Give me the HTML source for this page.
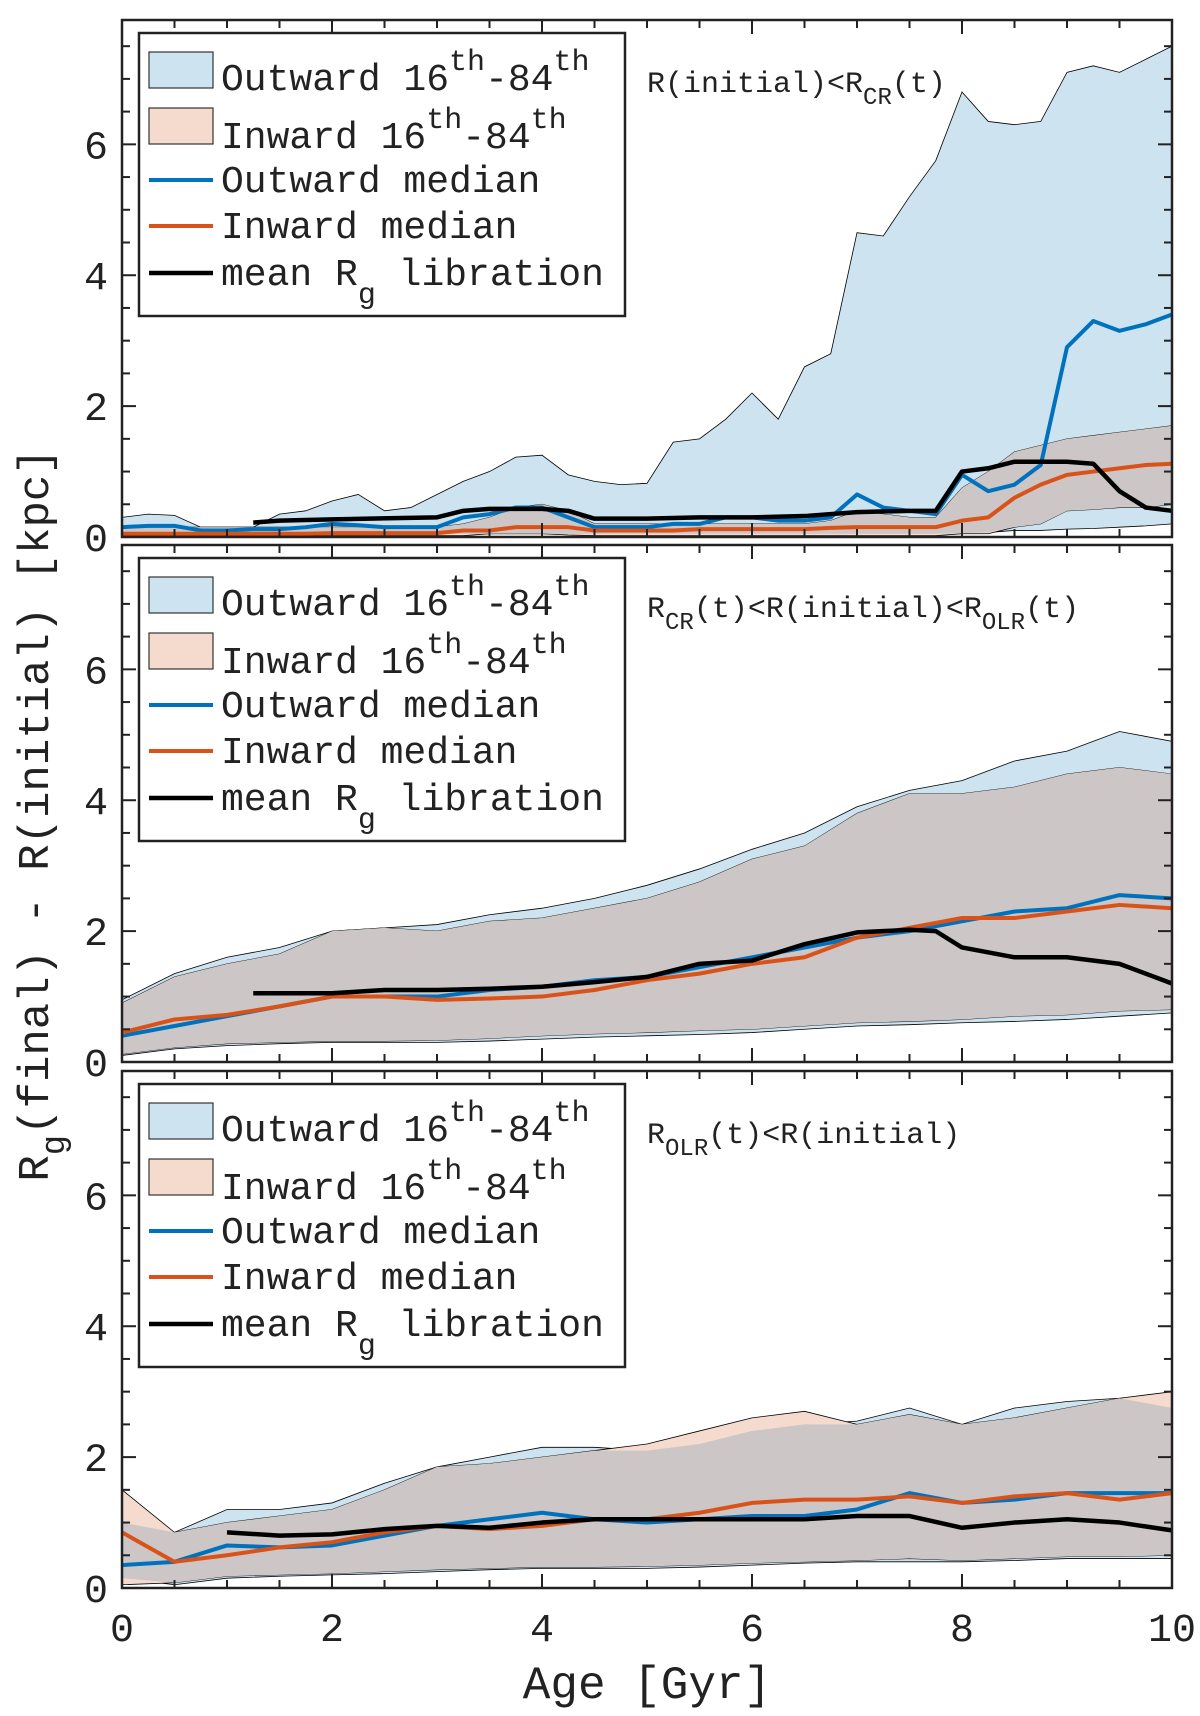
<!DOCTYPE html>
<html><head><meta charset="utf-8"><style>
html,body{margin:0;padding:0;background:#fff;width:1200px;height:1716px;overflow:hidden}
svg{display:block}
text{font-family:"Liberation Mono",monospace;fill:#222}
</style></head><body>
<svg id="fig" width="1200" height="1716" xmlns="http://www.w3.org/2000/svg"></svg>
<script>
// ---- data ----
const xq = [0,0.25,0.5,0.75,1,1.25,1.5,1.75,2,2.25,2.5,2.75,3,3.25,3.5,3.75,4,4.25,4.5,4.75,5,5.25,5.5,5.75,6,6.25,6.5,6.75,7,7.25,7.5,7.75,8,8.25,8.5,8.75,9,9.25,9.5,9.75,10];
const p1OutUp = [0.3,0.35,0.33,0.15,0.15,0.15,0.35,0.4,0.55,0.65,0.4,0.45,0.65,0.85,1.0,1.22,1.25,0.95,0.85,0.8,0.82,1.45,1.5,1.8,2.2,1.8,2.6,2.8,4.65,4.6,5.2,5.75,6.8,6.35,6.3,6.35,7.1,7.2,7.1,7.3,7.5];
const p1OutLo = [0.05,0.05,0.05,0.05,0.05,0.05,0.05,0.05,0.05,0.05,0.05,0.05,0.05,0.05,0.05,0.05,0.05,0.05,0.05,0.05,0.05,0.05,0.05,0.05,0.05,0.05,0.05,0.05,0.05,0.05,0.05,0.05,0.06,0.07,0.1,0.1,0.12,0.13,0.15,0.17,0.2];
const p1InUp = [0.15,0.15,0.15,0.15,0.15,0.15,0.15,0.15,0.15,0.15,0.15,0.15,0.15,0.2,0.3,0.45,0.5,0.4,0.2,0.2,0.2,0.2,0.2,0.2,0.2,0.2,0.2,0.25,0.4,0.35,0.3,0.3,0.75,1.0,1.3,1.4,1.5,1.55,1.6,1.65,1.7];
const p1InLo = [0.02,0.02,0.02,0.02,0.02,0.02,0.02,0.02,0.02,0.02,0.02,0.02,0.02,0.02,0.05,0.05,0.05,0.03,0.02,0.02,0.02,0.02,0.02,0.02,0.02,0.02,0.02,0.02,0.02,0.02,0.02,0.02,0.05,0.05,0.15,0.2,0.4,0.42,0.45,0.45,0.5];
const p1OutMed = [0.15,0.17,0.17,0.1,0.1,0.12,0.12,0.15,0.2,0.18,0.15,0.15,0.15,0.3,0.35,0.45,0.45,0.3,0.15,0.15,0.15,0.2,0.2,0.3,0.3,0.25,0.25,0.3,0.65,0.45,0.4,0.35,0.95,0.7,0.8,1.1,2.9,3.3,3.15,3.25,3.4];
const p1InMed = [0.05,0.05,0.05,0.05,0.05,0.05,0.05,0.05,0.06,0.06,0.06,0.06,0.06,0.1,0.1,0.15,0.15,0.15,0.1,0.1,0.1,0.1,0.12,0.12,0.12,0.12,0.12,0.14,0.15,0.15,0.15,0.15,0.25,0.3,0.6,0.8,0.95,1.0,1.05,1.1,1.12];
const p1LibX = [1.25,1.5,2,3,3.25,3.5,4,4.25,4.5,5,5.5,6,6.5,7,7.5,7.75,8,8.25,8.5,9,9.25,9.5,9.75,10];
const p1Lib = [0.22,0.25,0.27,0.3,0.4,0.43,0.43,0.4,0.28,0.28,0.3,0.3,0.32,0.38,0.4,0.4,1.0,1.05,1.15,1.15,1.12,0.7,0.45,0.4];

const xh = [0,0.5,1,1.5,2,2.5,3,3.5,4,4.5,5,5.5,6,6.5,7,7.5,8,8.5,9,9.5,10];
const p2OutUp = [0.95,1.35,1.6,1.75,2.0,2.05,2.1,2.25,2.35,2.5,2.7,2.95,3.25,3.5,3.9,4.15,4.3,4.6,4.75,5.05,4.9];
const p2InUp = [0.9,1.3,1.5,1.65,2.0,2.05,2.0,2.15,2.2,2.35,2.5,2.75,3.1,3.3,3.8,4.1,4.1,4.2,4.4,4.5,4.4];
const p2OutLo = [0.1,0.2,0.25,0.28,0.3,0.3,0.3,0.32,0.35,0.38,0.4,0.42,0.45,0.5,0.55,0.57,0.6,0.62,0.65,0.7,0.75];
const p2InLo = [0.12,0.22,0.28,0.3,0.32,0.32,0.33,0.36,0.4,0.43,0.45,0.48,0.5,0.55,0.6,0.62,0.65,0.7,0.72,0.78,0.8];
const p2OutMed = [0.4,0.55,0.7,0.85,1.0,1.0,1.0,1.1,1.15,1.25,1.3,1.45,1.6,1.75,1.9,2.0,2.15,2.3,2.35,2.55,2.5];
const p2InMed = [0.45,0.65,0.72,0.85,1.0,1.0,0.95,0.97,1.0,1.1,1.25,1.35,1.5,1.6,1.9,2.05,2.2,2.2,2.3,2.4,2.35];
const p2LibX = [1.25,1.5,2,2.5,3,3.5,4,4.5,5,5.5,6,6.5,7,7.5,7.75,8,8.5,9,9.5,10];
const p2Lib = [1.05,1.05,1.05,1.1,1.1,1.12,1.15,1.22,1.3,1.5,1.55,1.8,1.98,2.02,2.0,1.75,1.6,1.6,1.5,1.2];

const p3OutUp = [1.0,0.85,1.2,1.2,1.3,1.6,1.85,2.0,2.15,2.15,2.1,2.2,2.4,2.5,2.55,2.75,2.5,2.75,2.85,2.9,2.75];
const p3InUp = [1.5,0.85,1.0,1.1,1.2,1.5,1.85,1.9,2.0,2.1,2.2,2.4,2.6,2.7,2.5,2.65,2.5,2.6,2.75,2.9,3.0];
const p3OutLo = [0.15,0.05,0.15,0.18,0.2,0.22,0.25,0.28,0.3,0.3,0.3,0.32,0.35,0.38,0.4,0.4,0.4,0.42,0.45,0.45,0.45];
const p3InLo = [0.05,0.08,0.18,0.2,0.22,0.25,0.28,0.3,0.32,0.32,0.33,0.35,0.38,0.4,0.42,0.45,0.42,0.45,0.48,0.48,0.5];
const p3OutMed = [0.35,0.4,0.65,0.62,0.65,0.8,0.95,1.05,1.15,1.05,1.0,1.05,1.1,1.1,1.2,1.45,1.3,1.35,1.45,1.45,1.45];
const p3InMed = [0.85,0.4,0.5,0.62,0.7,0.85,0.95,0.9,0.95,1.05,1.05,1.15,1.3,1.35,1.35,1.4,1.3,1.4,1.45,1.35,1.45];
const p3LibX = [1,1.5,2,2.5,3,3.5,4,4.5,5,5.5,6,6.5,7,7.5,8,8.5,9,9.5,10];
const p3Lib = [0.85,0.8,0.82,0.9,0.95,0.92,1.0,1.05,1.05,1.05,1.05,1.05,1.1,1.1,0.92,1.0,1.05,1.0,0.88];

const xTicks = [0,2,4,6,8,10];
const yTicks = [0,2,4,6];
const titles = ["R(initial)&lt;R|CR|(t)","R|CR|(t)&lt;R(initial)&lt;R|OLR|(t)","R|OLR|(t)&lt;R(initial)"];

// ---- layout ----
const NS="http://www.w3.org/2000/svg";
const svg=document.getElementById('fig');
const L=122,R=1172,PH=517,YMAX=7.9;
const tops=[20,545,1071];
function el(tag,attrs,parent){const e=document.createElementNS(NS,tag);for(const k in attrs)e.setAttribute(k,attrs[k]);(parent||svg).appendChild(e);return e;}
const sx=v=>L+(R-L)*v/10;

const panels=[
 {xs:xq,ou:p1OutUp,ol:p1OutLo,iu:p1InUp,il:p1InLo,om:p1OutMed,im:p1InMed,lx:p1LibX,lb:p1Lib},
 {xs:xh,ou:p2OutUp,ol:p2OutLo,iu:p2InUp,il:p2InLo,om:p2OutMed,im:p2InMed,lx:p2LibX,lb:p2Lib},
 {xs:xh,ou:p3OutUp,ol:p3OutLo,iu:p3InUp,il:p3InLo,om:p3OutMed,im:p3InMed,lx:p3LibX,lb:p3Lib}
];

panels.forEach((p,pi)=>{
  const T=tops[pi],B=T+PH;
  const sy=v=>B-PH*v/YMAX;
  const g=el('g',{});
  
  
  const band=(up,lo,fill,name)=>{
    let d='M'+p.xs.map((x,i)=>sx(x)+','+sy(up[i])).join('L');
    d+='L'+p.xs.map((x,i)=>sx(x)+','+sy(lo[i])).reverse().join('L')+'Z';
    const e=el('path',{d:d,fill:fill,stroke:'#000','stroke-width':0.8},g);
    
    
  };
  band(p.ou,p.ol,'#cde3f0','outward-band');
  band(p.iu,p.il,'#f5dace','inward-band');
  const ovU=p.xs.map((x,i)=>Math.min(p.ou[i],p.iu[i]));
  const ovL=p.xs.map((x,i)=>Math.max(p.ol[i],p.il[i]));
  let d='M'+p.xs.map((x,i)=>sx(x)+','+sy(ovU[i])).join('L');
  d+='L'+p.xs.map((x,i)=>sx(x)+','+sy(Math.min(ovL[i],ovU[i]))).reverse().join('L')+'Z';
  const ov=el('path',{d:d,fill:'#ccc6c6',stroke:'none'},g);
  
  
  const line=(xs,ys,color,w,name)=>{
    const e=el('polyline',{points:xs.map((x,i)=>sx(x)+','+sy(ys[i])).join(' '),fill:'none',stroke:color,'stroke-width':w,'stroke-linejoin':'round'},g);
    
    
  };
  line(p.xs,p.om,'#0072bd',4,'outward-median-line');
  line(p.xs,p.im,'#d95319',4,'inward-median-line');
  line(p.lx,p.lb,'#000',4.5,'mean-libration-line');
  const bx=el('rect',{x:L,y:T,width:R-L,height:PH,fill:'none',stroke:'#222','stroke-width':2.5},g);
  
  
  for(let k=0;k<=20;k++){const v=k*0.5,len=k%4==0?14:8,x=sx(v);
    el('line',{x1:x,y1:B,x2:x,y2:B-len,stroke:'#222','stroke-width':2},g);
    el('line',{x1:x,y1:T,x2:x,y2:T+len,stroke:'#222','stroke-width':2},g);}
  for(let k=0;k*0.5<=YMAX;k++){const v=k*0.5,len=k%4==0?14:8,y=sy(v);
    el('line',{x1:L,y1:y,x2:L+len,y2:y,stroke:'#222','stroke-width':2},g);
    el('line',{x1:R,y1:y,x2:R-len,y2:y,stroke:'#222','stroke-width':2},g);}
  yTicks.forEach(v=>{const t=el('text',{x:108,y:sy(v)+14,'text-anchor':'end','font-size':40},g);t.textContent=v;
    });
  const lg=el('g',{},g);
  
  
  el('rect',{x:139,y:T+13,width:486,height:283,fill:'#fff',stroke:'#222','stroke-width':2.5},lg);
  const rows=[T+56,T+114,T+160,T+206,T+253];
  el('rect',{x:149,y:rows[0]-24,width:64,height:36,fill:'#cde3f0',stroke:'#333','stroke-width':1.2},lg);
  el('rect',{x:149,y:rows[1]-26,width:64,height:36,fill:'#f5dace',stroke:'#333','stroke-width':1.2},lg);
  el('line',{x1:149,x2:213,y1:rows[2],y2:rows[2],stroke:'#0072bd','stroke-width':4},lg);
  el('line',{x1:149,x2:213,y1:rows[3],y2:rows[3],stroke:'#d95319','stroke-width':4},lg);
  el('line',{x1:149,x2:213,y1:rows[4],y2:rows[4],stroke:'#000','stroke-width':4.5},lg);
  const lt=[
    '<tspan>Outward 16</tspan><tspan dy="-20" font-size="30">th</tspan><tspan dy="20">-84</tspan><tspan dy="-20" font-size="30">th</tspan>',
    '<tspan>Inward 16</tspan><tspan dy="-20" font-size="30">th</tspan><tspan dy="20">-84</tspan><tspan dy="-20" font-size="30">th</tspan>',
    'Outward median','Inward median',
    '<tspan>mean R</tspan><tspan dy="18" font-size="30">g</tspan><tspan dy="-18"> libration</tspan>'];
  lt.forEach((s,i)=>{const t=el('text',{x:221,y:rows[i]+(i<2?14:12),'font-size':38},lg);t.innerHTML=s;
    });
  const parts=titles[pi].split('|');
  let html='';parts.forEach((s,i)=>{html+= i%2? '<tspan dy="12" font-size="24">'+s+'</tspan>' : '<tspan dy="'+(i?-12:0)+'">'+s+'</tspan>';});
  const an=el('text',{x:647,y:T+72,'font-size':30},g);an.innerHTML=html;
  
});
xTicks.forEach(v=>{const t=el('text',{x:sx(v),y:1641,'text-anchor':'middle','font-size':40});t.textContent=v;
  });
const xl=el('text',{x:(L+R)/2,y:1698,'text-anchor':'middle','font-size':46});xl.textContent='Age [Gyr]';

const yl=el('text',{x:0,y:0,'text-anchor':'middle','font-size':44,transform:'translate(48,815) rotate(-90)'});
yl.innerHTML='<tspan>R</tspan><tspan dy="16" font-size="34">g</tspan><tspan dy="-16">(final) - R(initial) [kpc]</tspan>';

</script>
</body></html>
